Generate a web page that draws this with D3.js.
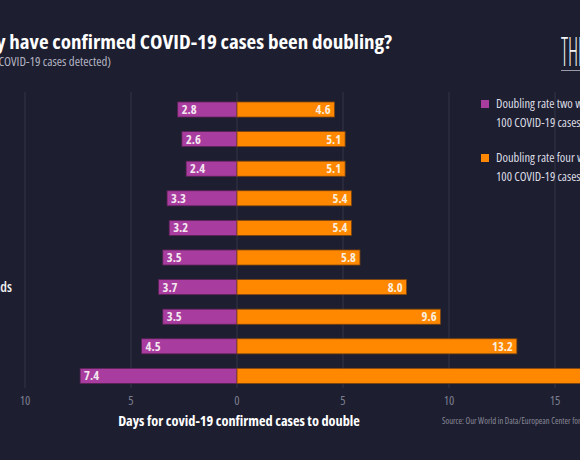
<!DOCTYPE html>
<html>
<head>
<meta charset="utf-8">
<script src="https://cdn.jsdelivr.net/npm/d3@7"></script>
<style>
  html, body { margin: 0; padding: 0; background: #1d1e2f; overflow: hidden; }
  svg text { font-family: "Open Sans", "Liberation Sans Narrow", sans-serif; font-stretch: 75%; }
</style>
</head>
<body>
<svg id="chart"></svg>
<script>
// data
const countries = ["US", "Spain", "Germany", "France", "UK", "Belgium", "Netherlands", "Iran", "Italy", "Japan"];
const twoWeeks = [2.8, 2.6, 2.4, 3.3, 3.2, 3.5, 3.7, 3.5, 4.5, 7.4];
const fourWeeks = [4.6, 5.1, 5.1, 5.4, 5.4, 5.8, 8.0, 9.6, 13.2, 18.0];
const xTicks = [-10, -5, 0, 5, 10, 15];

const width = 580, height = 460;

const svg = d3.select("#chart")
  .attr("width", width)
  .attr("height", height);

svg.append("rect")
  .attr("width", width).attr("height", height)
  .attr("fill", "#1d1e2f");

const x = d3.scaleLinear()
  .domain([-10, 15])
  .range([25, 555]);

const y = d3.scaleBand()
  .domain(countries)
  .range([94.7, 390.7])
  .paddingInner(0.49)
  .paddingOuter(0.245);

// grid
svg.append("g")
  .selectAll("line")
  .data(xTicks)
  .join("line")
  .attr("x1", d => x(d)).attr("x2", d => x(d))
  .attr("y1", 92).attr("y2", 388)
  .attr("stroke", "#34364a")
  .attr("stroke-width", 1);

// tick labels
svg.append("g")
  .selectAll("text")
  .data(xTicks)
  .join("text")
  .attr("x", d => x(d))
  .attr("y", 405)
  .attr("text-anchor", "middle")
  .attr("fill", "#7c7e90")
  .style("font-size", "12.5px")
  .text(d => Math.abs(d));

const rows = countries.map((c, i) => ({ country: c, two: twoWeeks[i], four: fourWeeks[i] }));

// bars
svg.append("g")
  .selectAll("rect")
  .data(rows)
  .join("rect")
  .attr("x", d => x(-d.two))
  .attr("y", d => y(d.country))
  .attr("width", d => x(0) - x(-d.two))
  .attr("height", y.bandwidth())
  .attr("fill", "#a83c9f")
  .attr("stroke", "#5a2256")
  .attr("stroke-width", 0.8);

svg.append("g")
  .selectAll("rect")
  .data(rows)
  .join("rect")
  .attr("x", x(0))
  .attr("y", d => y(d.country))
  .attr("width", d => x(d.four) - x(0))
  .attr("height", y.bandwidth())
  .attr("fill", "#ff8800")
  .attr("stroke", "#7a4310")
  .attr("stroke-width", 0.8);

// value labels
svg.append("g")
  .selectAll("text")
  .data(rows)
  .join("text")
  .attr("x", d => x(-d.two) + 4)
  .attr("y", d => y(d.country) + y.bandwidth() / 2 + 4.5)
  .attr("fill", "#f4e8f0")
  .style("font-size", "12.5px")
  .style("font-weight", "700")
  .text(d => d.two.toFixed(1));

svg.append("g")
  .selectAll("text")
  .data(rows)
  .join("text")
  .attr("x", d => x(d.four) - 4)
  .attr("y", d => y(d.country) + y.bandwidth() / 2 + 4.5)
  .attr("text-anchor", "end")
  .attr("fill", "#fbeede")
  .style("font-size", "12.5px")
  .style("font-weight", "700")
  .text(d => d.four.toFixed(1));

// country labels, left aligned, mostly outside the cropped view
const labels = svg.append("g")
  .selectAll("text")
  .data(rows)
  .join("text")
  .attr("y", d => y(d.country) + y.bandwidth() / 2 + 5)
  .attr("fill", "#f2f2f2")
  .style("font-size", "14px")
  .style("font-weight", "600")
  .text(d => d.country);
const longest = d3.max(labels.nodes(), n => n.getComputedTextLength());
labels.attr("x", 12 - longest);

// title (slightly widened, the original face is a touch wider than the local condensed one)
svg.append("text")
  .attr("transform", "translate(392,49) scale(1.08,1)")
  .attr("text-anchor", "end")
  .attr("fill", "#ffffff")
  .style("font-size", "19.5px")
  .style("font-weight", "700")
  .text("How quickly have confirmed COVID-19 cases been doubling?");

svg.append("text")
  .attr("transform", "translate(111,66) scale(1.07,1)")
  .attr("text-anchor", "end")
  .attr("fill", "#b4b5c2")
  .style("font-size", "12px")
  .text("(Days since 100 COVID-19 cases detected)");

// logo
svg.append("text")
  .attr("transform", "translate(561,66) scale(0.5,1)")
  .attr("fill", "#f4f4f4")
  .style("font-size", "40px")
  .style("font-weight", "300")
  .text("THE");
svg.append("line")
  .attr("x1", 561).attr("x2", 580)
  .attr("y1", 70.5).attr("y2", 70.5)
  .attr("stroke", "#9a9aa8").attr("stroke-width", 1);

// legend
const legendItems = [
  { color: "#a83c9f", lines: ["Doubling rate two weeks after", "100 COVID-19 cases detected"] },
  { color: "#ff8800", lines: ["Doubling rate four weeks after", "100 COVID-19 cases detected"] }
];
const legend = svg.append("g");
legendItems.forEach((item, i) => {
  const top = 100 + i * 54;
  legend.append("rect")
    .attr("x", 481).attr("y", top)
    .attr("width", 8).attr("height", 8)
    .attr("fill", item.color);
  item.lines.forEach((t, j) => {
    legend.append("text")
      .attr("x", 496).attr("y", top + 8 + j * 19)
      .attr("fill", "#dcdce4")
      .style("font-size", "12.5px")
      .text(t);
  });
});

// axis title and source
svg.append("text")
  .attr("x", 239).attr("y", 426)
  .attr("text-anchor", "middle")
  .attr("fill", "#ffffff")
  .style("font-size", "14.3px")
  .style("font-weight", "700")
  .text("Days for covid-19 confirmed cases to double");

svg.append("text")
  .attr("x", 442).attr("y", 424)
  .attr("fill", "#8a8b9a")
  .style("font-size", "8.5px")
  .text("Source: Our World in Data/European Center for Disease Prevention and Control");
</script>
</body>
</html>
